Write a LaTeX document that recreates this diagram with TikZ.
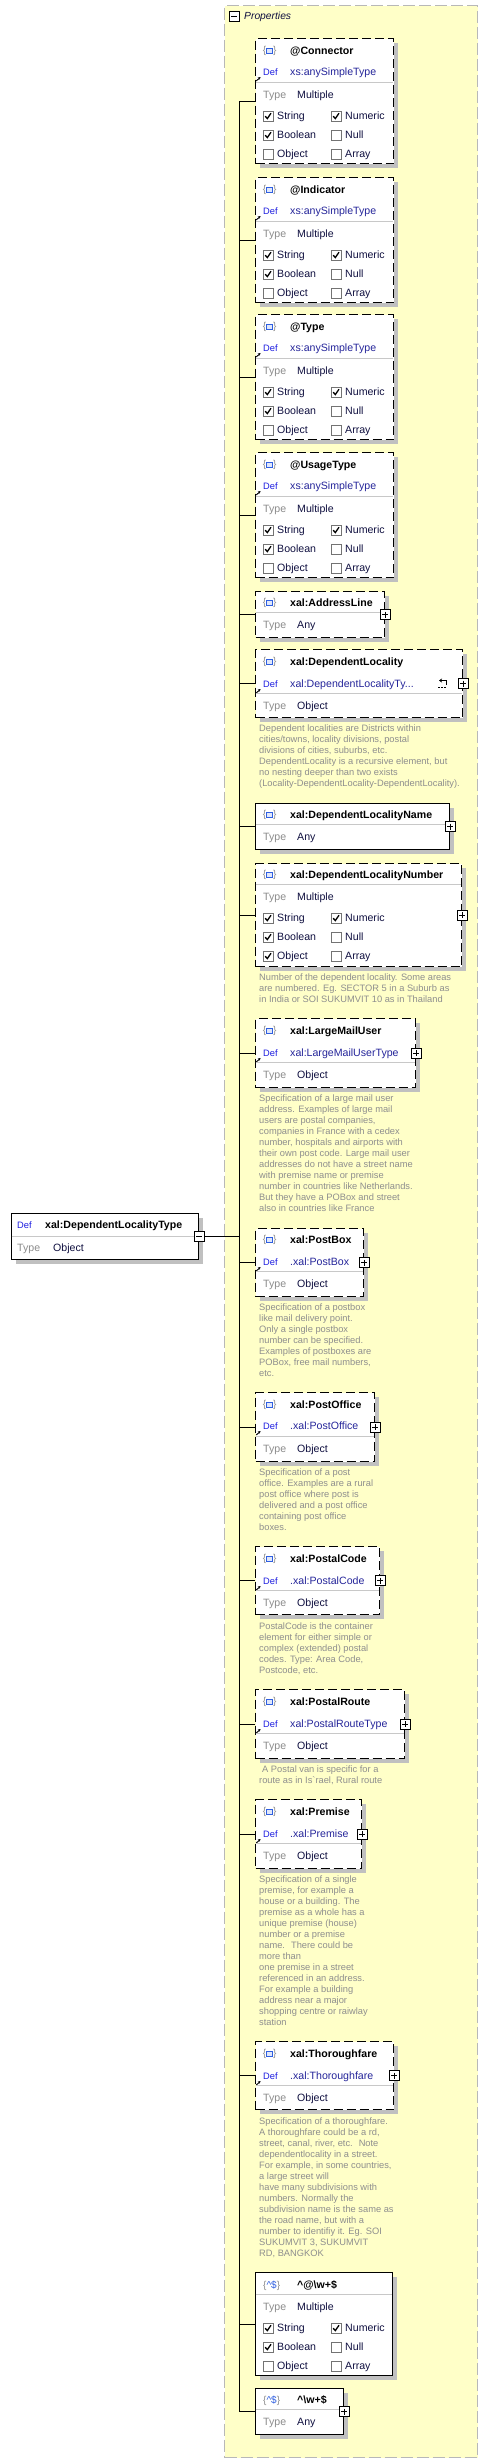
\documentclass[tikz,border=0pt]{standalone}
\usepackage{fontspec}
\setmainfont{Liberation Sans}
\usetikzlibrary{shadows,arrows.meta}

\definecolor{propfill}{HTML}{FFFFC8}
\definecolor{propedge}{HTML}{B8B8B8}
\definecolor{defblue}{HTML}{1C1CE0}
\definecolor{typenavy}{HTML}{25259A}
\definecolor{valnavy}{HTML}{101040}
\definecolor{lblgray}{HTML}{8C8C8C}
\definecolor{descgray}{HTML}{8E8E8E}
\definecolor{divgray}{HTML}{C8C8C8}
\definecolor{shadegray}{HTML}{C0C0C0}
\definecolor{iconblue}{HTML}{2F5FE0}

\tikzset{
  elbox/.style={draw, fill=white, line width=1pt, anchor=north west, inner sep=0pt,
    drop shadow={shadow xshift=4pt, shadow yshift=-4pt, fill=shadegray, opacity=1}},
  optbox/.style={elbox, dash pattern=on 9pt off 4pt},
  expbtn/.style={draw, fill=white, line width=0.8pt, minimum size=10pt, inner sep=0pt,
    path picture={\draw[line width=0.8pt] ([xshift=2pt]path picture bounding box.west) -- ([xshift=-2pt]path picture bounding box.east)
      ([yshift=-2pt]path picture bounding box.north) -- ([yshift=2pt]path picture bounding box.south);}},
  colbtn/.style={draw, fill=white, line width=0.8pt, minimum size=10pt, inner sep=0pt,
    path picture={\draw[line width=0.8pt] ([xshift=2pt]path picture bounding box.west) -- ([xshift=-2pt]path picture bounding box.east);}},
  txt/.style={anchor=base west, inner sep=0pt, text=valnavy, font=\fontsize{10.6pt}{12pt}\selectfont},
  ttl/.style={txt, text=black, font=\fontsize{10.6pt}{12pt}\selectfont\bfseries},
  typelbl/.style={txt, text=lblgray},
  deflbl/.style={txt, text=defblue, font=\fontsize{9.3pt}{11pt}\selectfont},
  deftype/.style={txt, text=typenavy},
  desc/.style={anchor=north west, inner sep=0pt, align=left, text=descgray, font=\fontsize{9.3pt}{11pt}\selectfont},
  cbx/.style={draw=black!55, fill=white, line width=0.8pt, minimum size=10pt, inner sep=0pt},
  checkmk/.style={line width=1.3pt},
  divln/.style={draw=divgray, line width=1pt},
  conline/.style={line width=0.9pt},
  iconbr/.style={inner sep=0pt, text=lblgray, font=\fontsize{10pt}{12pt}\selectfont},
  iconsq/.style={draw=iconblue, fill=iconblue!15, line width=1.2pt}
}

\newcommand{\eltitle}[3]{%
  \node[iconbr] (#1-lb) at (264.6,#2) {\{};
  \draw[iconsq] (266.6,#2-2.8) rectangle (272.4,#2+2.8);
  \node[iconbr] (#1-rb) at (274.8,#2) {\}};
  \node[ttl] (#1-name) at (290,#2+3.8) {#3};
}
\newcommand{\pattitle}[3]{%
  \node[txt, font=\fontsize{10pt}{12pt}\selectfont] (#1-pat) at (263,#2+3.8)
    {{\color{lblgray}\{}{\color{iconblue}\textasciicircum\$}{\color{lblgray}\}}};
  \node[ttl] (#1-name) at (297,#2+3.8) {#3};
}
\newcommand{\defrow}[3]{%
  \draw[line width=0.9pt, -{Stealth[length=2.6pt,width=2.8pt]}] (256.3,#2+9) -- (260.5,#2+5);
  \node[deflbl] (#1-def) at (263,#2+3.5) {Def};
  \node[deftype] (#1-dtype) at (290,#2+3.8) {#3};
}
\newcommand{\typerow}[4]{%
  \draw[divln] (255.5,#2-12.5) -- (#4-0.5,#2-12.5);
  \node[typelbl] (#1-typ) at (263,#2+3.8) {Type};
  \node[txt] (#1-val) at (297,#2+3.8) {#3};
}
\newcommand{\chk}[5]{%
  \node[cbx] (#1) at (#2+5,#3) {};
  \ifnum#4=1 \draw[checkmk] (#2+2.2,#3+0.2) -- (#2+4.3,#3+2.6) -- (#2+8,#3-2.8);\fi
  \node[txt] (#1-l) at (#2+14,#3+3.8) {#5};
}
\newcommand{\cbgrid}[8]{%
  \chk{#1-s}{263}{#2}{#3}{String}
  \chk{#1-n}{331}{#2}{#4}{Numeric}
  \chk{#1-b}{263}{#2+19}{#5}{Boolean}
  \chk{#1-u}{331}{#2+19}{#6}{Null}
  \chk{#1-o}{263}{#2+38}{#7}{Object}
  \chk{#1-a}{331}{#2+38}{#8}{Array}
}

\begin{document}
\begin{tikzpicture}[x=1pt, y=-1pt]
  \path[use as bounding box, fill=white] (0,0) rectangle (487,2463);

  \node[draw=propedge, fill=propfill, dash pattern=on 12pt off 4pt, line width=1pt, anchor=north west,
    minimum width=253pt, minimum height=2452pt, inner sep=0pt] (props) at (224,5) {};
  \node[colbtn] (props-btn) at (234,16) {};
  \node[txt, font=\fontsize{10.3pt}{12pt}\selectfont\itshape] (props-lbl) at (244,19.8) {Properties};

  \node[elbox, minimum width=187pt, minimum height=46pt] (deptype) at (11,1213) {};
  \draw[divln] (11.5,1236) -- (197.5,1236);
  \node[deflbl] (deptype-def) at (17,1228.5) {Def};
  \node[ttl] (deptype-name) at (45,1228.8) {xal:DependentLocalityType};
  \node[typelbl] (deptype-typ) at (17,1251.8) {Type};
  \node[txt] (deptype-val) at (53,1251.8) {Object};
  \node[colbtn] (deptype-btn) at (deptype.east) {};

  \node[optbox, minimum width=138pt, minimum height=125pt] (conn) at (255,38) {};
  \eltitle{conn}{51}{@Connector}
  \defrow{conn}{72}{xs:anySimpleType}
  \typerow{conn}{95}{Multiple}{393}
  \cbgrid{conn}{116}{1}{1}{1}{0}{0}{0}

  \node[optbox, minimum width=138pt, minimum height=125pt] (indic) at (255,177) {};
  \eltitle{indic}{190}{@Indicator}
  \defrow{indic}{211}{xs:anySimpleType}
  \typerow{indic}{234}{Multiple}{393}
  \cbgrid{indic}{255}{1}{1}{1}{0}{0}{0}

  \node[optbox, minimum width=138pt, minimum height=125pt] (typ) at (255,314) {};
  \eltitle{typ}{327}{@Type}
  \defrow{typ}{348}{xs:anySimpleType}
  \typerow{typ}{371}{Multiple}{393}
  \cbgrid{typ}{392}{1}{1}{1}{0}{0}{0}

  \node[optbox, minimum width=138pt, minimum height=125pt] (usage) at (255,452) {};
  \eltitle{usage}{465}{@UsageType}
  \defrow{usage}{486}{xs:anySimpleType}
  \typerow{usage}{509}{Multiple}{393}
  \cbgrid{usage}{530}{1}{1}{1}{0}{0}{0}

  \node[optbox, minimum width=129pt, minimum height=46pt] (addrline) at (255,591) {};
  \eltitle{addrline}{603}{xal:AddressLine}
  \typerow{addrline}{625}{Any}{384}
  \node[expbtn] (addrline-btn) at (addrline.east) {};

  \node[optbox, minimum width=207pt, minimum height=68pt] (deploc) at (255,649) {};
  \eltitle{deploc}{662}{xal:DependentLocality}
  \defrow{deploc}{684}{xal:DependentLocalityTy...}
  \typerow{deploc}{706}{Object}{462}
  \draw[line width=1pt, -{Stealth[length=3pt,width=4pt]}] (446,685) -- (446,680.5) -- (439,680.5);
  \draw[line width=1pt, dash pattern=on 1.5pt off 1.5pt] (438,687.5) -- (447,687.5);
  \node[expbtn] (deploc-btn) at (deploc.east) {};
  \node[desc] (deploc-desc) at (259,724.5) {Dependent localities are Districts within\\cities/towns, locality divisions, postal\\divisions of cities, suburbs, etc.\\DependentLocality is a recursive element, but\\no nesting deeper than two exists\\(Locality-DependentLocality-DependentLocality).};

  \node[elbox, minimum width=194pt, minimum height=46pt] (deplocname) at (255,803) {};
  \eltitle{deplocname}{815}{xal:DependentLocalityName}
  \typerow{deplocname}{837}{Any}{449}
  \node[expbtn] (deplocname-btn) at (deplocname.east) {};

  \node[optbox, minimum width=206pt, minimum height=103pt] (deplocnum) at (255,863) {};
  \eltitle{deplocnum}{875}{xal:DependentLocalityNumber}
  \typerow{deplocnum}{897}{Multiple}{461}
  \cbgrid{deplocnum}{918}{1}{1}{1}{0}{1}{0}
  \node[expbtn] (deplocnum-btn) at (deplocnum.east) {};
  \node[desc] (deplocnum-desc) at (259,973.5) {Number of the dependent locality. Some areas\\are numbered. Eg. SECTOR 5 in a Suburb as\\in India or SOI SUKUMVIT 10 as in Thailand};

  \node[optbox, minimum width=160pt, minimum height=69pt] (largemail) at (255,1018) {};
  \eltitle{largemail}{1031}{xal:LargeMailUser}
  \defrow{largemail}{1053}{xal:LargeMailUserType}
  \typerow{largemail}{1075}{Object}{415}
  \node[expbtn] (largemail-btn) at (largemail.east) {};
  \node[desc] (largemail-desc) at (259,1094.5) {Specification of a large mail user\\address. Examples of large mail\\users are postal companies,\\companies in France with a cedex\\number, hospitals and airports with\\their own post code. Large mail user\\addresses do not have a street name\\with premise name or premise\\number in countries like Netherlands.\\But they have a POBox and street\\also in countries like France};

  \node[optbox, minimum width=108pt, minimum height=68pt] (postbox) at (255,1228) {};
  \eltitle{postbox}{1240}{xal:PostBox}
  \defrow{postbox}{1262}{.xal:PostBox}
  \typerow{postbox}{1284}{Object}{363}
  \node[expbtn] (postbox-btn) at (postbox.east) {};
  \node[desc] (postbox-desc) at (259,1303.5) {Specification of a postbox\\like mail delivery point.\\Only a single postbox\\number can be specified.\\Examples of postboxes are\\POBox, free mail numbers,\\etc.};

  \node[optbox, minimum width=119pt, minimum height=69pt] (postoffice) at (255,1392) {};
  \eltitle{postoffice}{1405}{xal:PostOffice}
  \defrow{postoffice}{1426}{.xal:PostOffice}
  \typerow{postoffice}{1449}{Object}{374}
  \node[expbtn] (postoffice-btn) at (postoffice.east) {};
  \node[desc] (postoffice-desc) at (259,1468.5) {Specification of a post\\office. Examples are a rural\\post office where post is\\delivered and a post office\\containing post office\\boxes.};

  \node[optbox, minimum width=124pt, minimum height=68pt] (postalcode) at (255,1546) {};
  \eltitle{postalcode}{1559}{xal:PostalCode}
  \defrow{postalcode}{1581}{.xal:PostalCode}
  \typerow{postalcode}{1603}{Object}{379}
  \node[expbtn] (postalcode-btn) at (postalcode.east) {};
  \node[desc] (postalcode-desc) at (259,1622.5) {PostalCode is the container\\element for either simple or\\complex (extended) postal\\codes. Type: Area Code,\\Postcode, etc.};

  \node[optbox, minimum width=149pt, minimum height=69pt] (postalroute) at (255,1689) {};
  \eltitle{postalroute}{1702}{xal:PostalRoute}
  \defrow{postalroute}{1724}{xal:PostalRouteType}
  \typerow{postalroute}{1746}{Object}{404}
  \node[expbtn] (postalroute-btn) at (postalroute.east) {};
  \node[desc] (postalroute-desc) at (259,1765.5) {\hspace{3pt}A Postal van is specific for a\\route as in Is\textasciigrave rael, Rural route};

  \node[optbox, minimum width=106pt, minimum height=69pt] (premise) at (255,1799) {};
  \eltitle{premise}{1812}{xal:Premise}
  \defrow{premise}{1834}{.xal:Premise}
  \typerow{premise}{1856}{Object}{361}
  \node[expbtn] (premise-btn) at (premise.east) {};
  \node[desc] (premise-desc) at (259,1875.5) {Specification of a single\\premise, for example a\\house or a building. The\\premise as a whole has a\\unique premise (house)\\number or a premise\\name.~ There could be\\more than\\one premise in a street\\referenced in an address.\\For example a building\\address near a major\\shopping centre or raiwlay\\station};

  \node[optbox, minimum width=138pt, minimum height=68pt] (thoroughfare) at (255,2041) {};
  \eltitle{thoroughfare}{2054}{xal:Thoroughfare}
  \defrow{thoroughfare}{2076}{.xal:Thoroughfare}
  \typerow{thoroughfare}{2098}{Object}{393}
  \node[expbtn] (thoroughfare-btn) at (thoroughfare.east) {};
  \node[desc] (thoroughfare-desc) at (259,2117.5) {Specification of a thoroughfare.\\A thoroughfare could be a rd,\\street, canal, river, etc.~ Note\\dependentlocality in a street.\\For example, in some countries,\\a large street will\\have many subdivisions with\\numbers. Normally the\\subdivision name is the same as\\the road name, but with a\\number to identifiy it. Eg. SOI\\SUKUMVIT 3, SUKUMVIT\\RD, BANGKOK};

  \node[elbox, minimum width=137pt, minimum height=103pt] (patat) at (255,2272) {};
  \pattitle{patat}{2285}{\textasciicircum @\textbackslash w+\$}
  \typerow{patat}{2307}{Multiple}{392}
  \cbgrid{patat}{2328}{1}{1}{1}{0}{0}{0}

  \node[elbox, minimum width=88pt, minimum height=46pt] (patw) at (255,2388) {};
  \pattitle{patw}{2400}{\textasciicircum\textbackslash w+\$}
  \typerow{patw}{2422}{Any}{343}
  \node[expbtn] (patw-btn) at (patw.east) {};

  \coordinate (trunk) at (239,0);
  \draw[conline] (deptype-btn) -- (trunk |- deptype-btn);
  \draw[conline] (trunk |- conn.west) -- (trunk |- patw.west);
  \foreach \b in {conn,indic,typ,usage,addrline,deploc,deplocname,deplocnum,largemail,postbox,postoffice,postalcode,postalroute,premise,thoroughfare,patat,patw}
    \draw[conline] (trunk |- \b.west) -- (\b.west);
\end{tikzpicture}
\end{document}
